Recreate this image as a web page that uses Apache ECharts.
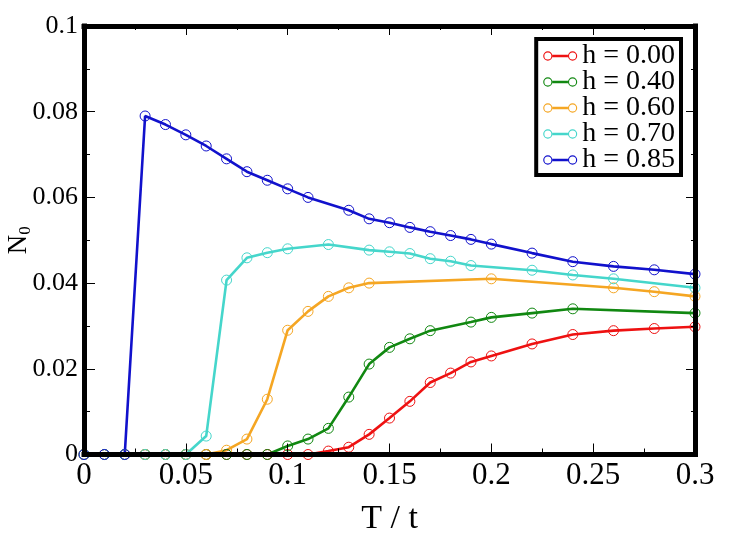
<!DOCTYPE html>
<html>
<head>
<meta charset="utf-8">
<script src="https://cdn.jsdelivr.net/npm/echarts@6/dist/echarts.min.js"></script>
<style>
  html, body { margin: 0; padding: 0; background: #fff; }
  #chart { width: 731px; height: 547px; }
</style>
</head>
<body>
<div id="chart"></div>
<script>
// Data: T / t on x, N_0 on y
const tRed = [0, 0.01, 0.02, 0.03, 0.04, 0.05, 0.06, 0.07, 0.08, 0.09, 0.10, 0.11, 0.12, 0.13, 0.14, 0.15, 0.16, 0.17, 0.18, 0.19, 0.20, 0.22, 0.24, 0.26, 0.28, 0.30];
const nRed = [0, 0, 0, 0, 0, 0, 0, 0, 0, 0, 0, 0, 0.0008, 0.0017, 0.0047, 0.0085, 0.0124, 0.0168, 0.019, 0.0216, 0.023, 0.0258, 0.028, 0.0289, 0.0294, 0.0298];

const tGreen = [0, 0.01, 0.02, 0.03, 0.04, 0.05, 0.06, 0.07, 0.08, 0.09, 0.10, 0.11, 0.12, 0.13, 0.14, 0.15, 0.16, 0.17, 0.19, 0.20, 0.22, 0.24, 0.30];
const nGreen = [0, 0, 0, 0, 0, 0, 0, 0, 0, 0, 0.002, 0.0036, 0.0061, 0.0134, 0.0211, 0.025, 0.027, 0.0289, 0.0309, 0.032, 0.033, 0.034, 0.033];

const tOrange = [0, 0.01, 0.02, 0.03, 0.04, 0.05, 0.06, 0.07, 0.08, 0.09, 0.10, 0.11, 0.12, 0.13, 0.14, 0.20, 0.26, 0.28, 0.30];
const nOrange = [0, 0, 0, 0, 0, 0, 0, 0.001, 0.0036, 0.0129, 0.029, 0.0334, 0.0369, 0.0389, 0.040, 0.041, 0.0389, 0.038, 0.0369];

const tCyan = [0, 0.01, 0.02, 0.03, 0.04, 0.05, 0.06, 0.07, 0.08, 0.09, 0.10, 0.12, 0.14, 0.15, 0.16, 0.17, 0.18, 0.19, 0.22, 0.24, 0.26, 0.30];
const nCyan = [0, 0, 0, 0, 0, 0, 0.0043, 0.0407, 0.0459, 0.0471, 0.048, 0.049, 0.0477, 0.0473, 0.0469, 0.0457, 0.0451, 0.0441, 0.043, 0.0419, 0.041, 0.0389];

const tBlue = [0, 0.01, 0.02, 0.03, 0.04, 0.05, 0.06, 0.07, 0.08, 0.09, 0.10, 0.11, 0.13, 0.14, 0.15, 0.16, 0.17, 0.18, 0.19, 0.20, 0.22, 0.24, 0.26, 0.28, 0.30];
const nBlue = [0, 0, 0, 0.079, 0.077, 0.0746, 0.072, 0.069, 0.066, 0.064, 0.062, 0.060, 0.057, 0.055, 0.0541, 0.053, 0.052, 0.0511, 0.0502, 0.0491, 0.047, 0.045, 0.0439, 0.0431, 0.0421];

const seriesNames = ['h = 0.00', 'h = 0.40', 'h = 0.60', 'h = 0.70', 'h = 0.85'];
const seriesColors = ['#ee1111', '#118811', '#f5a623', '#45d6cb', '#1111cc'];
const seriesT = [tRed, tGreen, tOrange, tCyan, tBlue];
const seriesN = [nRed, nGreen, nOrange, nCyan, nBlue];

const xTicks = { min: 0, max: 0.3, interval: 0.05 };
const yTicks = { min: 0, max: 0.1, interval: 0.02 };

const FONT = 'Liberation Serif';

// legend icon: ring - bar - ring
const LEGEND_ICON = 'path://' +
  'M0.5,5 A4.5,4.5 0 1 1 9.5,5 A4.5,4.5 0 1 1 0.5,5 Z ' +
  'M1.6,5 A3.4,3.4 0 1 0 8.4,5 A3.4,3.4 0 1 0 1.6,5 Z ' +
  'M9.5,3.7 L24.5,3.7 L24.5,6.3 L9.5,6.3 Z ' +
  'M24.5,5 A4.5,4.5 0 1 1 33.5,5 A4.5,4.5 0 1 1 24.5,5 Z ' +
  'M25.6,5 A3.4,3.4 0 1 0 32.4,5 A3.4,3.4 0 1 0 25.6,5 Z';

const frameLine = { show: true, onZero: false, lineStyle: { color: '#000', width: 5, cap: 'square' } };

function makeAxis(base, opts) {
  return Object.assign({
    type: 'value',
    z: 10,
    splitLine: { show: false },
    axisLine: frameLine,
    axisTick: { show: true, inside: true, length: 11, lineStyle: { color: '#000', width: 1 } },
    minorTick: { show: true, splitNumber: 2, length: 6, lineStyle: { color: '#000', width: 1 } }
  }, base, opts);
}

const chart = echarts.init(document.getElementById('chart'));

chart.setOption({
  animation: false,
  backgroundColor: '#fff',
  grid: { left: 84, right: 36, top: 26, bottom: 92.5, containLabel: false, outerBoundsMode: 'none' },
  legend: {
    orient: 'vertical',
    right: 50,
    top: 39,
    itemGap: -2,
    itemWidth: 34,
    itemHeight: 10,
    padding: [3, 6, 1, 7],
    backgroundColor: '#fff',
    borderColor: '#000',
    borderWidth: 4,
    borderRadius: 0,
    textStyle: { fontFamily: FONT, fontSize: 28, color: '#000' },
    data: seriesNames.map((name, i) => ({
      name,
      icon: LEGEND_ICON,
      itemStyle: { color: seriesColors[i], borderWidth: 0 }
    }))
  },
  xAxis: [
    makeAxis(xTicks, {
      position: 'bottom',
      name: 'T / t',
      nameLocation: 'middle',
      nameGap: 48,
      nameMoveOverlap: false,
      nameTextStyle: { fontFamily: FONT, fontSize: 34, color: '#000' },
      axisLabel: { fontFamily: FONT, fontSize: 31, color: '#000', margin: 6 }
    }),
    makeAxis(xTicks, {
      position: 'top',
      axisTick: { show: true, inside: true, length: 9, lineStyle: { color: '#000', width: 1 } },
      minorTick: { show: true, splitNumber: 2, length: 4, lineStyle: { color: '#000', width: 1 } },
      axisLabel: { show: false }
    })
  ],
  yAxis: [
    makeAxis(yTicks, {
      position: 'left',
      name: '{n|N}{s|0}',
      nameLocation: 'middle',
      nameGap: 50,
      nameMoveOverlap: false,
      nameTextStyle: {
        color: '#000',
        rich: {
          n: { fontFamily: FONT, fontSize: 27, color: '#000' },
          s: { fontFamily: FONT, fontSize: 17, color: '#000', padding: [14, 0, 0, 0] }
        }
      },
      axisLabel: { fontFamily: FONT, fontSize: 26, color: '#000', margin: 6 }
    }),
    makeAxis(yTicks, {
      position: 'right',
      axisTick: { show: true, inside: true, length: 9, lineStyle: { color: '#000', width: 1 } },
      minorTick: { show: true, splitNumber: 2, length: 4, lineStyle: { color: '#000', width: 1 } },
      axisLabel: { show: false }
    })
  ],
  series: seriesNames.map((name, i) => ({
    name,
    type: 'line',
    xAxisIndex: 0,
    yAxisIndex: 0,
    data: seriesT[i].map((t, j) => [t, seriesN[i][j]]),
    symbol: 'circle',
    symbolSize: 10,
    showAllSymbol: true,
    clip: false,
    lineStyle: { color: seriesColors[i], width: 2.6 },
    itemStyle: { color: 'transparent', borderColor: seriesColors[i], borderWidth: 1 },
    emphasis: { disabled: true }
  }))
});
</script>
</body>
</html>
